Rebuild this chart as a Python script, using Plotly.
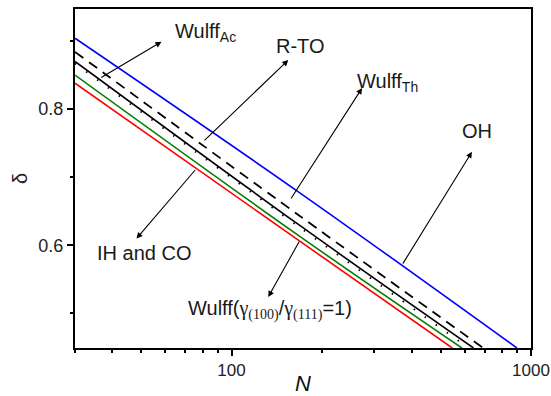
import plotly.graph_objects as go

# ---- data (N, delta) ----
N_OH = [30, 169, 898]
d_OH = [0.904, 0.677, 0.449]

N_Th = [30, 169, 693]
d_Th = [0.884, 0.643, 0.449]

N_RTO = [30, 169, 643]
d_RTO = [0.870, 0.629, 0.449]

N_Ac = [30, 169, 620]
d_Ac = [0.867, 0.626, 0.449]

N_W1 = [30, 169, 588]
d_W1 = [0.850, 0.613, 0.449]

N_IH = [30, 169, 546]
d_IH = [0.838, 0.606, 0.449]

x_major = [100, 1000]
x_major_text = ["100", "1000"]
x_minor = [30, 40, 50, 60, 70, 80, 90, 200, 300, 400, 500, 600, 700, 800, 900]

# target geometry in page pixels
PW, PH = 551, 396
PL, PR, PT, PB = 75.3, 530.7, 9.0, 347.7
# initial geometry inside the default 8px body margin (page fits exactly)
OFF = 8
W, H = PW - 2 * OFF, PH - 2 * OFF
L, R, T, B = PL - OFF, PR - OFF, PT - OFF, PB - OFF

FONT = "Arial, Liberation Sans, sans-serif"
SERIF = "Liberation Serif"

fig = go.Figure()
sm = 1.0
fig.add_trace(go.Scatter(x=N_OH, y=d_OH, mode="lines",
                         line=dict(color="#0000ff", width=1.6, shape="spline", smoothing=sm)))
fig.add_trace(go.Scatter(x=N_Th, y=d_Th, mode="lines",
                         line=dict(color="black", width=1.8, dash="10px,7px", shape="spline", smoothing=sm)))
fig.add_trace(go.Scatter(x=N_RTO, y=d_RTO, mode="lines",
                         line=dict(color="black", width=1.6, shape="spline", smoothing=sm)))
fig.add_trace(go.Scatter(x=N_Ac, y=d_Ac, mode="lines",
                         line=dict(color="black", width=1.8, dash="1.5px,12px", shape="spline", smoothing=sm)))
fig.add_trace(go.Scatter(x=N_W1, y=d_W1, mode="lines",
                         line=dict(color="#008000", width=1.6, shape="spline", smoothing=sm)))
fig.add_trace(go.Scatter(x=N_IH, y=d_IH, mode="lines",
                         line=dict(color="#ff0000", width=1.6, shape="spline", smoothing=sm)))


def px(xp):
    return (xp - PL) / (PR - PL)


def py(yp):
    return (PB - yp) / (PB - PT)


annos = []
# arrows: (tail_x, tail_y, head_x, head_y) in page pixels
arrows = [
    (100, 78.3, 161.7, 41.7),
    (203, 141.7, 288.3, 60),
    (196.7, 168.3, 136.7, 238.3),
    (290, 200, 362, 88),
    (401.7, 265, 471.7, 151.7),
    (300, 240, 268.3, 296.7),
]
for tx, ty, hx, hy in arrows:
    annos.append(dict(xref="paper", yref="paper", x=px(hx), y=py(hy), text="",
                      showarrow=True, arrowhead=2, arrowsize=1.1, arrowwidth=1.1,
                      arrowcolor="black", ax=tx - hx, ay=ty - hy, standoff=0))

texts = [
    (205.5, 32, "Wulff<sub>Ac</sub>"),
    (301, 46, "R-TO"),
    (387, 82, "Wulff<sub>Th</sub>"),
    (477, 131, "OH"),
    (144, 253, "IH and CO"),
    (270, 310, "Wulff(<span style=\"font-family:%s\">γ<sub>(100)</sub></span>/"
               "<span style=\"font-family:%s\">γ<sub>(111)</sub></span>=1)" % (SERIF, SERIF)),
]
for cx, cy, t in texts:
    annos.append(dict(xref="paper", yref="paper", x=px(cx), y=py(cy), text=t,
                      showarrow=False, xanchor="center", yanchor="middle",
                      font=dict(family=FONT, size=20, color="#1a1a1a")))

fig.update_layout(
    width=W, height=H,
    margin=dict(l=L, r=W - R, t=T, b=H - B, pad=0, autoexpand=False),
    paper_bgcolor="white", plot_bgcolor="white",
    showlegend=False,
    annotations=annos,
    font=dict(family=FONT, size=18, color="#222222"),
)
fig.update_xaxes(
    type="log", range=[1.4771, 3.0002], automargin=False,
    tickvals=x_major, ticktext=x_major_text,
    ticks="outside", ticklen=6, tickwidth=1.5, tickcolor="black",
    minor=dict(tickvals=x_minor, ticks="outside", ticklen=3, tickwidth=1.5, tickcolor="black"),
    showline=True, linewidth=2, linecolor="black", mirror=True,
    showgrid=False, zeroline=False,
    tickfont=dict(size=17, color="#222222"),
    title=dict(text="<i>N</i>", font=dict(size=22, color="#111111"), standoff=2),
)
fig.update_yaxes(
    range=[0.449, 0.947], automargin=False,
    tick0=0, dtick=0.2, tickformat=".1f",
    ticks="outside", ticklen=6, tickwidth=1.5, tickcolor="black",
    minor=dict(tick0=0, dtick=0.1, ticks="outside", ticklen=3, tickwidth=1.5, tickcolor="black"),
    showline=True, linewidth=2, linecolor="black", mirror=True,
    showgrid=False, zeroline=False,
    tickfont=dict(size=18, color="#222222"),
    title=dict(text="δ", font=dict(size=20, color="#222222"), standoff=5),
)

post = (
    "var gd=document.getElementById('{plot_id}');"
    "document.body.style.margin='0';"
    "gd.style.width='%dpx';gd.style.height='%dpx';"
    "Plotly.relayout(gd,{width:%d,height:%d,'margin.l':%f,'margin.r':%f,'margin.t':%f,'margin.b':%f});"
    % (PW, PH, PW, PH, PL, PW - PR, PT, PH - PB)
)

fig.write_html("out.html", config={"displayModeBar": False}, post_script=post)
